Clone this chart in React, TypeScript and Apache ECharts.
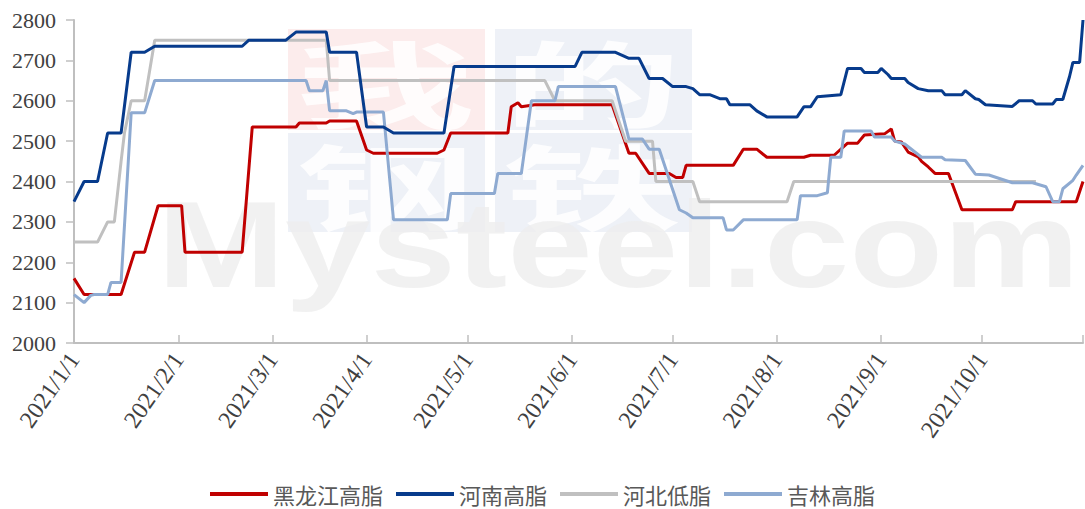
import React, { useEffect, useRef } from "react";
import * as echarts from "echarts";

// ---- data ----
const SERIES_NAMES = ["黑龙江高脂", "河南高脂", "河北低脂", "吉林高脂"];
const SERIES_COLORS = ["#c00000", "#073b8c", "#c0c0c0", "#8eaad1"];
const SKIPPED_DATES = ["2021/3/7", "2021/3/14", "2021/3/21"];
const MONTHS = [1, 2, 3, 4, 5, 6, 7, 8, 9, 10];
const Y_MIN = 2000;
const Y_MAX = 2800;
const Y_STEP = 100;

function buildCategories(): string[] {
  const out: string[] = [];
  for (const m of MONTHS) {
    const days = new Date(2021, m, 0).getDate();
    for (let d = 1; d <= days; d++) {
      const s = `2021/${m}/${d}`;
      if (!SKIPPED_DATES.includes(s)) out.push(s);
    }
  }
  return out;
}
const categories = buildCategories();

const heilongjiang: [string, number][] = [
  ["2021/1/1", 2160], ["2021/1/4", 2120], ["2021/1/15", 2120], ["2021/1/19", 2225], ["2021/1/22", 2225],
  ["2021/1/26", 2340], ["2021/2/2", 2340], ["2021/2/3", 2225], ["2021/2/20", 2225], ["2021/2/23", 2535],
  ["2021/3/9", 2535], ["2021/3/10", 2545], ["2021/3/19", 2545], ["2021/3/20", 2550], ["2021/3/29", 2550],
  ["2021/4/1", 2478], ["2021/4/3", 2470], ["2021/4/22", 2470], ["2021/4/24", 2478], ["2021/4/26", 2520],
  ["2021/5/13", 2520], ["2021/5/14", 2585], ["2021/5/16", 2595], ["2021/5/17", 2585], ["2021/5/21", 2590],
  ["2021/6/13", 2590], ["2021/6/18", 2470], ["2021/6/20", 2470], ["2021/6/24", 2420], ["2021/6/30", 2420],
  ["2021/7/2", 2410], ["2021/7/4", 2410], ["2021/7/5", 2440], ["2021/7/19", 2440], ["2021/7/22", 2480],
  ["2021/7/26", 2480], ["2021/7/29", 2460], ["2021/8/9", 2460], ["2021/8/11", 2465], ["2021/8/18", 2465],
  ["2021/8/22", 2495], ["2021/8/25", 2495], ["2021/8/27", 2515], ["2021/9/2", 2518], ["2021/9/4", 2530],
  ["2021/9/5", 2500], ["2021/9/7", 2498], ["2021/9/9", 2473], ["2021/9/12", 2461], ["2021/9/13", 2450],
  ["2021/9/15", 2436], ["2021/9/17", 2420], ["2021/9/21", 2420], ["2021/9/25", 2330], ["2021/10/10", 2330],
  ["2021/10/11", 2350], ["2021/10/29", 2350], ["2021/10/31", 2400],
];

const henan: [string, number][] = [
  ["2021/1/1", 2350], ["2021/1/4", 2400], ["2021/1/8", 2400], ["2021/1/11", 2520], ["2021/1/15", 2520],
  ["2021/1/18", 2720], ["2021/1/22", 2720], ["2021/1/25", 2735], ["2021/2/20", 2735], ["2021/2/22", 2750],
  ["2021/3/5", 2750], ["2021/3/9", 2770], ["2021/3/19", 2770], ["2021/3/20", 2720], ["2021/3/29", 2720],
  ["2021/4/1", 2535], ["2021/4/6", 2535], ["2021/4/9", 2520], ["2021/4/24", 2520], ["2021/4/27", 2685],
  ["2021/6/2", 2685], ["2021/6/4", 2720], ["2021/6/14", 2720], ["2021/6/18", 2705], ["2021/6/21", 2705],
  ["2021/6/24", 2655], ["2021/6/28", 2655], ["2021/7/1", 2635], ["2021/7/5", 2635], ["2021/7/7", 2630],
  ["2021/7/9", 2615], ["2021/7/12", 2615], ["2021/7/15", 2605], ["2021/7/17", 2605], ["2021/7/18", 2590],
  ["2021/7/24", 2590], ["2021/7/26", 2575], ["2021/7/29", 2560], ["2021/8/7", 2560], ["2021/8/9", 2585],
  ["2021/8/11", 2585], ["2021/8/13", 2610], ["2021/8/20", 2615], ["2021/8/22", 2680], ["2021/8/26", 2680],
  ["2021/8/27", 2670], ["2021/8/31", 2670], ["2021/9/1", 2680], ["2021/9/3", 2665], ["2021/9/4", 2655],
  ["2021/9/8", 2655], ["2021/9/9", 2645], ["2021/9/12", 2630], ["2021/9/15", 2625], ["2021/9/19", 2625],
  ["2021/9/20", 2615], ["2021/9/25", 2615], ["2021/9/26", 2625], ["2021/9/29", 2605], ["2021/9/30", 2603],
  ["2021/10/2", 2590], ["2021/10/10", 2586], ["2021/10/12", 2600], ["2021/10/16", 2600], ["2021/10/17", 2592],
  ["2021/10/22", 2592], ["2021/10/23", 2603], ["2021/10/25", 2603], ["2021/10/27", 2660], ["2021/10/28", 2695],
  ["2021/10/30", 2695], ["2021/10/31", 2800],
];

const hebei: [string, number][] = [
  ["2021/1/1", 2250], ["2021/1/8", 2250], ["2021/1/11", 2300], ["2021/1/13", 2300], ["2021/1/15", 2450],
  ["2021/1/16", 2520], ["2021/1/18", 2600], ["2021/1/22", 2600], ["2021/1/25", 2750], ["2021/3/19", 2750],
  ["2021/3/20", 2650], ["2021/5/24", 2650], ["2021/5/27", 2600], ["2021/6/13", 2600], ["2021/6/17", 2500],
  ["2021/6/25", 2500], ["2021/6/26", 2400], ["2021/7/7", 2400], ["2021/7/9", 2350], ["2021/8/4", 2350],
  ["2021/8/6", 2400], ["2021/10/17", 2400],
];

const jilin: [string, number][] = [
  ["2021/1/1", 2120], ["2021/1/4", 2100], ["2021/1/6", 2118], ["2021/1/7", 2120], ["2021/1/11", 2120],
  ["2021/1/12", 2150], ["2021/1/15", 2150], ["2021/1/18", 2570], ["2021/1/22", 2570], ["2021/1/25", 2650],
  ["2021/3/12", 2650], ["2021/3/13", 2625], ["2021/3/18", 2625], ["2021/3/19", 2650], ["2021/3/20", 2575],
  ["2021/3/26", 2575], ["2021/3/28", 2568], ["2021/3/29", 2572], ["2021/4/6", 2572], ["2021/4/9", 2305],
  ["2021/4/25", 2305], ["2021/4/26", 2370], ["2021/5/9", 2370], ["2021/5/10", 2420], ["2021/5/17", 2420],
  ["2021/5/20", 2600], ["2021/5/27", 2600], ["2021/5/28", 2635], ["2021/6/14", 2635], ["2021/6/18", 2505],
  ["2021/6/22", 2505], ["2021/6/24", 2480], ["2021/6/27", 2480], ["2021/7/3", 2330], ["2021/7/5", 2322],
  ["2021/7/7", 2310], ["2021/7/16", 2310], ["2021/7/17", 2280], ["2021/7/19", 2280], ["2021/7/22", 2305],
  ["2021/8/7", 2305], ["2021/8/8", 2365], ["2021/8/13", 2365], ["2021/8/16", 2372], ["2021/8/17", 2460],
  ["2021/8/20", 2460], ["2021/8/21", 2525], ["2021/8/29", 2525], ["2021/8/30", 2510], ["2021/9/4", 2510],
  ["2021/9/5", 2500], ["2021/9/8", 2493], ["2021/9/13", 2460], ["2021/9/19", 2460], ["2021/9/20", 2454],
  ["2021/9/26", 2452], ["2021/9/29", 2418], ["2021/10/3", 2416], ["2021/10/10", 2397], ["2021/10/16", 2397],
  ["2021/10/20", 2387], ["2021/10/22", 2350], ["2021/10/24", 2350], ["2021/10/25", 2382], ["2021/10/28", 2403],
  ["2021/10/29", 2416], ["2021/10/31", 2440],
];

const SERIES_DATA = [heilongjiang, henan, hebei, jilin];

const isMonthStart = (v: string) => v.endsWith("/1");

export default function App() {
  const ref = useRef<HTMLDivElement>(null);
  useEffect(() => {
    if (!ref.current) return;
    const chart = echarts.init(ref.current, null, { renderer: "svg" });
    const wmFont = "Noto Sans CJK SC";
    const serif = "Liberation Serif";
    const cjkText = (text: string, x: number, y: number) => ({
      type: "text",
      z: -9,
      silent: true,
      x,
      y,
      scaleX: 1.9,
      style: {
        text,
        fontFamily: wmFont,
        fontWeight: "bold",
        fontSize: 94,
        fill: "#ffffff",
        opacity: 0.85,
        textVerticalAlign: "middle",
        verticalAlign: "middle",
      },
    });
    chart.setOption({
      animation: false,
      backgroundColor: "#ffffff",
      grid: { left: 74, right: 2, top: 20, bottom: 166, containLabel: false },
      graphic: [
        { type: "rect", z: -10, silent: true, shape: { x: 288, y: 29, width: 197, height: 101 }, style: { fill: "#fcecec" } },
        { type: "rect", z: -10, silent: true, shape: { x: 495, y: 29, width: 197, height: 101 }, style: { fill: "#eef1f7" } },
        { type: "rect", z: -10, silent: true, shape: { x: 288, y: 133, width: 197, height: 99 }, style: { fill: "#eef1f7" } },
        { type: "rect", z: -10, silent: true, shape: { x: 495, y: 133, width: 197, height: 99 }, style: { fill: "#eef1f7" } },
        cjkText("我", 296, 80),
        cjkText("的", 503, 80),
        cjkText("钢", 296, 183),
        cjkText("铁", 503, 183),
        {
          type: "text",
          z: -8,
          silent: true,
          x: 157,
          y: 245,
          scaleX: 1.25,
          style: {
            text: "Mysteel.com",
            fontFamily: "Liberation Sans",
            fontWeight: "bold",
            fontSize: 123,
            fill: "#eeeeee",
            opacity: 0.8,
            textVerticalAlign: "middle",
            verticalAlign: "middle",
          },
        },
      ],
      legend: {
        data: SERIES_NAMES,
        left: "center",
        top: 478,
        icon: "rect",
        itemWidth: 58,
        itemHeight: 4,
        itemGap: 13,
        textStyle: { fontFamily: "Noto Sans CJK SC", fontSize: 22, color: "#595959" },
      },
      xAxis: {
        type: "category",
        data: categories,
        boundaryGap: false,
        axisLine: { lineStyle: { color: "#bfbfbf", width: 2 } },
        axisTick: {
          inside: true,
          length: 8,
          interval: (idx: number, v: string) => isMonthStart(v) || idx === categories.length - 1,
          lineStyle: { color: "#bfbfbf", width: 1.5 },
        },
        axisLabel: {
          interval: (_idx: number, v: string) => isMonthStart(v),
          rotate: 55,
          margin: 12,
          fontFamily: serif,
          fontSize: 24,
          color: "#404040",
        },
        splitLine: { show: false },
      },
      yAxis: {
        type: "value",
        min: Y_MIN,
        max: Y_MAX,
        interval: Y_STEP,
        axisLine: { show: true, lineStyle: { color: "#bfbfbf", width: 2 } },
        axisTick: { show: true, length: 8, lineStyle: { color: "#bfbfbf", width: 1.5 } },
        axisLabel: {
          margin: 18,
          fontFamily: serif,
          fontSize: 22,
          color: "#404040",
          formatter: (v: number) => String(v),
        },
        splitLine: { show: false },
      },
      series: SERIES_NAMES.map((name, i) => ({
        name,
        type: "line",
        data: SERIES_DATA[i],
        showSymbol: false,
        symbol: "none",
        z: 3 + (i === 1 ? 1 : 0),
        lineStyle: { color: SERIES_COLORS[i], width: 3 },
        itemStyle: { color: SERIES_COLORS[i] },
      })),
    });
    return () => chart.dispose();
  }, []);
  return (
    <div
      ref={ref}
      style={{ position: "absolute", left: 0, top: 0, width: 1085, height: 509 }}
    />
  );
}
